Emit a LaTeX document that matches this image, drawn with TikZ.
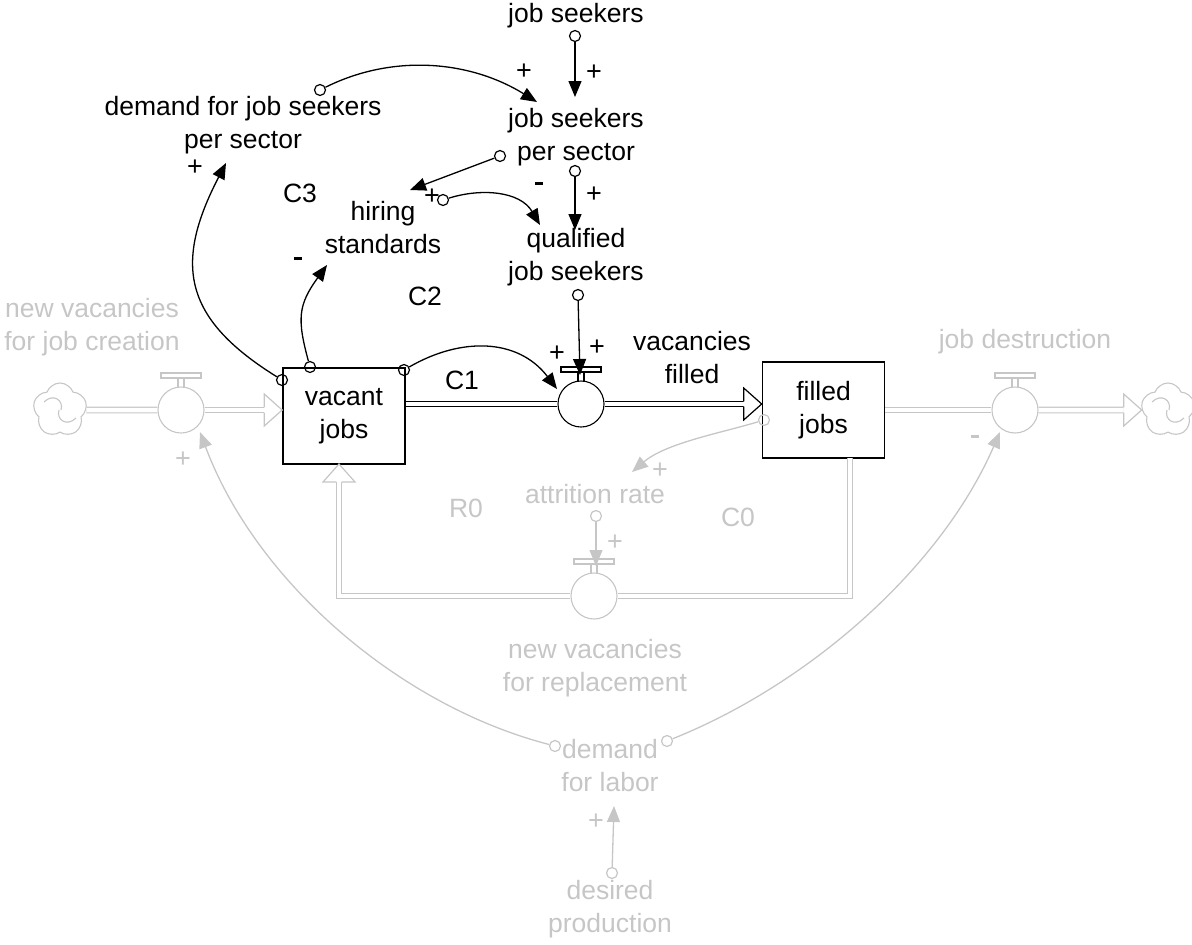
\documentclass[tikz,border=0pt]{standalone}
\usepackage{fontspec}
\setmainfont{Liberation Sans}
\usetikzlibrary{arrows.meta,shapes.symbols}
\definecolor{faded}{RGB}{198,198,198}

% hollow head at the end of a material pipe: colour, tip, rotation
\newcommand{\pipehead}[3]{%
  \begin{scope}[shift={(#2)}, rotate=#3]
    \fill[white] (0,0) -- (-18,-16) -- (-18,16) -- cycle;
    \draw[#1, line width=1.2pt, line join=miter]
      (-18,-2.6) -- (-18,-16) -- (0,0) -- (-18,16) -- (-18,2.6);
  \end{scope}}

% valve: name, centre, colour
\newcommand{\drawvalve}[3]{%
  \node[valvebody, draw=#3] (#1) at (#2) {};
  \begin{scope}[shift={(#2)}]
    \draw[#3, line width=1.1pt] (-3,-22.5) -- (-3,-32) (3,-22.5) -- (3,-32);
    \draw[#3, line width=1.1pt, fill=white] (-20,-37) rectangle (20,-32);
  \end{scope}}

% short thick minus used as a link polarity
\newcommand{\negsign}{\rule[0.28em]{8pt}{2.6pt}}

\begin{document}
\begin{tikzpicture}[x=1pt, y=-1pt,
  every node/.style={font=\fontsize{26.5}{33}\selectfont, inner sep=0pt, align=center},
  pol/.style={font=\fontsize{27}{30}\selectfont},
  src/.style={circle, draw, minimum size=11pt, inner sep=0pt, line width=1.2pt},
  link/.style={line width=1.3pt, -{Triangle[length=16pt,width=13pt]}},
  stockbox/.style={draw, line width=1.6pt, rectangle, minimum width=122pt, minimum height=96pt},
  valvebody/.style={circle, minimum size=46pt, line width=1.1pt},
  pipe/.style={double=white, double distance=4.5pt, line width=1.2pt},
  sourcecloud/.style={cloud, cloud puffs=5, cloud puff arc=140, aspect=1, draw=faded,
    line width=1.1pt, minimum width=54pt, minimum height=54pt},
  faint/.style={text=faded},
]
\useasboundingbox (0,0) rectangle (1192,945);

% ---------- stocks ----------
\node[stockbox] (vj) at (344,416) {vacant\\jobs};
\node[stockbox] (fj) at (823.5,410) {filled\\jobs};

% ---------- valves and clouds ----------
\drawvalve{mv}{581,404}{black}
\drawvalve{lv}{181,410}{faded}
\drawvalve{rv}{1015,410}{faded}
\drawvalve{rp}{594,596}{faded}
\node[sourcecloud] (cloudL) at (60,410) {};
\node[sourcecloud] (cloudR) at (1168,410) {};
\draw[faded, line width=1.1pt] (44,402) .. controls (53,393) and (64,400) .. (61,410)
  (76,418) .. controls (67,427) and (56,420) .. (59,410);
\draw[faded, line width=1.1pt] (1152,402) .. controls (1161,393) and (1172,400) .. (1169,410)
  (1184,418) .. controls (1175,427) and (1164,420) .. (1167,410);

% ---------- pipes ----------
\coordinate (mvin)  at (vj.east |- mv.west);
\coordinate (mvend) at ([xshift=-18pt]fj.west |- mv.east);
\coordinate (mvtip) at (fj.west |- mv.east);
\draw[pipe] (mvin) -- (mv.west);
\draw[pipe] (mv.east) -- (mvend);
\pipehead{black}{mvtip}{0}

\coordinate (lvend) at ([xshift=-18pt]vj.west |- lv.east);
\coordinate (lvtip) at (vj.west |- lv.east);
\draw[pipe, draw=faded] (cloudL.east) -- (lv.west);
\draw[pipe, draw=faded] (lv.east) -- (lvend);
\pipehead{faded}{lvtip}{0}

\coordinate (rvend) at ([xshift=-18pt]cloudR.west);
\draw[pipe, draw=faded] (fj.east) -- (rv.west);
\draw[pipe, draw=faded] (rv.east) -- (rvend);
\pipehead{faded}{cloudR.west}{0}

\coordinate (loopR)   at (850,458);
\coordinate (loopL)   at (339,596);
\coordinate (loopend) at (339,481);
\coordinate (looptip) at (339,464);
\draw[pipe, draw=faded] (loopR) |- (rp.east);
\draw[pipe, draw=faded] (rp.west) -| (loopend);
\pipehead{faded}{looptip}{90}

% ---------- variables ----------
\node (js)   at (576,16)  {job seekers};
\node (jsps) at (576,137) {job seekers\\per sector};
\node (hs)   at (383,228) {hiring\\standards};
\node (qjs)  at (576,257) {qualified\\job seekers};
\node (dfjs) at (243,125) {demand for job seekers\\per sector};
\node (vf)   at (692,358) {vacancies\\filled};
\node[faint] (nvjc) at (92,327)  {new vacancies\\for job creation};
\node[faint] (jd)   at (1025,342) {job destruction};
\node[faint] (ar)   at (595,494) {attrition rate};
\node[faint] (nvr)  at (595,668) {new vacancies\\for replacement};
\node[faint] (dfl)  at (610,766) {demand\\for labor};
\node[faint] (dp)   at (610,909) {desired\\production};

% ---------- loop labels ----------
\node (C3) at (300,193) {C3};
\node (C2) at (425,296) {C2};
\node (C1) at (462,380) {C1};
\node[faint] (R0) at (466,508) {R0};
\node[faint] (C0) at (738,517) {C0};

% ---------- link origins ----------
\node[src] (ojs)    at (575,36)  {};
\node[src] (ojsps1) at (500,156) {};
\node[src] (ojsps2) at (575,171) {};
\node[src] (ohs)    at (443,200) {};
\node[src] (oqjs)   at (578,295) {};
\node[src] (odfjs)  at (320,90)  {};
\node[src] (ovj1)   at (282,380) {};
\node[src] (ovj2)   at (310,367) {};
\node[src] (ovj3)   at (404,370) {};
\node[src, draw=faded] (ofj)   at (764,420) {};
\node[src, draw=faded] (oar)   at (596,516) {};
\node[src, draw=faded] (odfl1) at (555,746) {};
\node[src, draw=faded] (odfl2) at (667,741) {};
\node[src, draw=faded] (odp)   at (612,873) {};

% ---------- link ends ----------
\coordinate (tjsps)  at (575,97);
\coordinate (tjsps2) at (537,102);
\coordinate (ths)    at (410,190);
\coordinate (ths2)   at (327,265);
\coordinate (tqjs)   at (575,230);
\coordinate (tqjs2)  at (540,225);
\coordinate (tdfjs)  at (226,163);
\coordinate (tmv)    at (557,389);
\coordinate (tmvbar) at (580,375);
\coordinate (tar)    at (632,472);
\coordinate (trpbar) at (596,566);
\coordinate (tlv)    at (200,432);
\coordinate (trv)    at (1000,432);
\coordinate (tdfl)   at (614,806);

% ---------- causal links ----------
\draw[link] (ojs) -- (tjsps);
\draw[link] (odfjs) .. controls (392,54) and (469,60) .. (tjsps2);
\draw[link] (ojsps1) -- (ths);
\draw[link] (ojsps2) -- (tqjs);
\draw[link] (ohs) .. controls (481,188) and (520,191) .. (tqjs2);
\draw[link] (ovj1) .. controls (184,319) and (173,265) .. (tdfjs);
\draw[link] (ovj2) .. controls (297,319) and (298,305) .. (ths2);
\draw[link] (ovj3) .. controls (461,337) and (518,338) .. (tmv);
\draw[link] (oqjs) -- (tmvbar);

\draw[link, draw=faded] (ofj) .. controls (721,433) and (666,443) .. (tar);
\draw[link, draw=faded] (oar) -- (trpbar);
\draw[link, draw=faded] (odfl1) .. controls (400,706) and (256,582) .. (tlv);
\draw[link, draw=faded] (odfl2) .. controls (807,685) and (940,570) .. (trv);
\draw[link, draw=faded] (odp) -- (tdfl);

% ---------- polarities ----------
\node[pol] (p1)  at (524,72)  {+};
\node[pol] (p2)  at (594,73)  {+};
\node[pol] (p3)  at (195,168) {+};
\node[pol] (p4)  at (539,187) {\negsign};
\node[pol] (p5)  at (594,195) {+};
\node[pol] (p6)  at (432,197) {+};
\node[pol] (p7)  at (298,262) {\negsign};
\node[pol] (p8)  at (557,354) {+};
\node[pol] (p9)  at (597,348) {+};
\node[pol, faint] (p10) at (660,471) {+};
\node[pol, faint] (p11) at (615,543) {+};
\node[pol, faint] (p12) at (183,460) {+};
\node[pol, faint] (p13) at (975,440) {\color{faded}\negsign};
\node[pol, faint] (p14) at (596,822) {+};
\end{tikzpicture}
\end{document}
